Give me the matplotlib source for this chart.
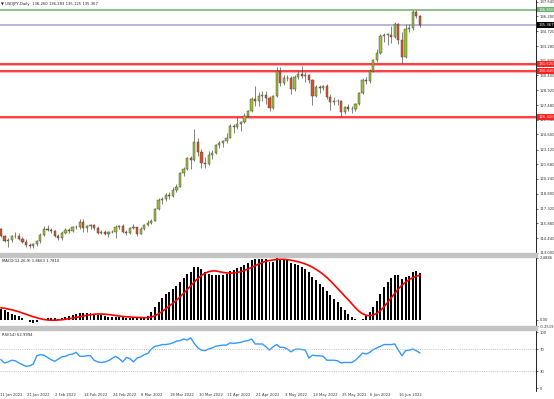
import numpy as np
import pandas as pd
import matplotlib
matplotlib.use("Agg")
import matplotlib.pyplot as plt
from matplotlib.patches import Rectangle
from matplotlib.transforms import blended_transform_factory

# input
symbol = 'USDJPY'
title = '▼ USDJPY,Daily  136.260 136.283 135.125 135.367'
dates = pd.bdate_range('2022-01-11', '2022-06-23')

opens = [115.30, 114.62, 114.18, 114.20, 114.60, 114.65, 114.30, 114.05, 113.75, 113.65,
         113.90, 114.10, 114.70, 115.35, 115.25, 115.10, 114.65, 114.40, 114.95, 115.25,
         115.10, 115.55, 115.50, 116.00, 115.40, 115.60, 115.70, 115.45, 114.95, 115.00,
         114.80, 115.05, 115.00, 115.50, 115.60, 115.00, 114.90, 115.45, 115.50, 114.85,
         115.30, 115.70, 115.95, 116.15, 117.30, 118.20, 118.30, 118.65, 118.60, 119.15,
         119.45, 120.80, 121.20, 122.30, 122.05, 123.85, 122.85, 121.80, 121.70, 122.55,
         122.80, 123.60, 123.75, 123.95, 124.30, 125.40, 125.35, 125.60, 125.85, 126.40,
         126.90, 128.10, 127.85, 128.40, 128.50, 128.15, 127.20, 128.40, 130.80, 129.70,
         130.15, 130.10, 129.10, 130.20, 130.55, 130.30, 130.40, 129.95, 128.35, 129.25,
         129.15, 129.40, 128.25, 127.80, 127.90, 127.85, 126.85, 127.30, 127.10, 127.10,
         127.60, 128.70, 129.90, 129.85, 130.85, 131.90, 132.60, 134.30, 134.40, 134.40,
         134.20, 135.45, 133.85, 132.20, 134.95, 135.10, 136.60, 136.26]
highs = [115.45, 114.75, 114.40, 114.70, 115.05, 114.90, 114.50, 114.30, 114.00, 114.00,
         114.20, 114.95, 115.60, 115.68, 115.45, 115.20, 114.80, 115.10, 115.40, 115.40,
         115.65, 115.70, 116.35, 116.30, 115.75, 115.85, 115.80, 115.60, 115.25, 115.20,
         115.15, 115.20, 115.70, 115.75, 115.80, 115.20, 115.55, 115.80, 115.55, 115.50,
         115.85, 116.20, 116.30, 117.35, 118.40, 118.45, 118.90, 119.00, 119.45, 119.70,
         120.95, 121.40, 122.40, 122.45, 125.10, 124.30, 123.20, 122.40, 122.95, 123.05,
         123.70, 124.00, 124.10, 124.70, 125.60, 125.60, 126.30, 125.90, 126.70, 127.05,
         128.30, 129.40, 128.75, 128.85, 128.85, 128.35, 128.50, 131.25, 131.25, 130.40,
         130.45, 130.35, 130.40, 130.80, 131.35, 130.70, 130.50, 130.00, 129.45, 129.50,
         129.50, 129.60, 128.60, 128.30, 128.10, 128.00, 127.40, 127.60, 127.40, 127.70,
         128.80, 130.10, 130.20, 131.00, 132.00, 133.00, 134.50, 134.55, 134.55, 135.20,
         135.60, 135.55, 134.70, 135.45, 135.45, 136.80, 136.85, 136.28]
lows = [114.55, 114.05, 113.55, 114.05, 114.45, 114.20, 113.95, 113.60, 113.45, 113.50,
        113.70, 114.00, 114.60, 115.10, 114.90, 114.55, 114.20, 114.20, 114.85, 114.95,
        115.05, 115.35, 115.30, 115.00, 115.00, 115.30, 115.25, 114.85, 114.80, 114.70,
        114.55, 114.90, 114.40, 115.30, 114.90, 114.70, 114.80, 115.35, 114.65, 114.80,
        115.20, 115.65, 115.80, 116.10, 117.20, 117.75, 118.10, 118.30, 118.50, 118.95,
        119.40, 120.55, 121.10, 121.20, 122.00, 122.50, 121.30, 121.30, 121.60, 122.20,
        122.70, 123.30, 123.40, 123.80, 124.25, 124.75, 125.10, 124.95, 125.70, 126.30,
        126.85, 127.40, 127.40, 127.90, 127.60, 126.95, 127.10, 128.30, 129.40, 129.50,
        129.85, 128.60, 128.90, 130.00, 130.15, 129.80, 129.70, 127.50, 128.25, 128.70,
        128.95, 128.10, 127.05, 127.50, 127.50, 126.35, 126.60, 126.90, 126.70, 126.90,
        127.50, 128.60, 129.60, 129.70, 130.70, 131.75, 132.50, 133.70, 133.40, 133.60,
        134.10, 133.50, 131.50, 132.10, 134.70, 134.90, 136.00, 135.12]
closes = [114.60, 114.18, 114.20, 114.60, 114.65, 114.30, 114.05, 113.75, 113.65, 113.90,
          114.10, 114.70, 115.35, 115.25, 115.10, 114.65, 114.40, 114.95, 115.25, 115.10,
          115.55, 115.50, 116.00, 115.40, 115.60, 115.70, 115.45, 114.95, 115.00, 114.80,
          115.05, 115.00, 115.50, 115.60, 115.00, 114.90, 115.45, 115.50, 114.85, 115.30,
          115.70, 115.95, 116.15, 117.30, 118.20, 118.30, 118.65, 118.60, 119.15, 119.45,
          120.80, 121.20, 122.30, 122.05, 123.85, 122.85, 121.80, 121.70, 122.55, 122.80,
          123.60, 123.75, 123.95, 124.30, 125.40, 125.35, 125.60, 125.85, 126.40, 126.90,
          128.10, 127.85, 128.40, 128.50, 128.15, 127.20, 128.40, 130.80, 129.70, 130.15,
          130.10, 129.10, 130.20, 130.55, 130.30, 130.40, 129.95, 128.35, 129.25, 129.15,
          129.40, 128.25, 127.80, 127.90, 127.85, 126.85, 127.30, 127.10, 127.10, 127.60,
          128.70, 129.90, 129.85, 130.85, 131.90, 132.60, 134.30, 134.40, 134.40, 134.20,
          135.45, 133.85, 132.20, 134.95, 135.10, 136.60, 136.25, 135.37]

# MACD(12,26,9): main as histogram, signal line
macd = [0.45, 0.40, 0.30, 0.22, 0.17, 0.15, 0.08, -0.02, -0.08, -0.12,
        -0.08, 0.00, 0.04, 0.06, 0.06, 0.05, 0.04, 0.06, 0.10, 0.14,
        0.18, 0.22, 0.27, 0.28, 0.28, 0.27, 0.25, 0.20, 0.17, 0.14,
        0.12, 0.10, 0.11, 0.12, 0.09, 0.07, 0.08, 0.08, 0.05, 0.06,
        0.09, 0.14, 0.30, 0.50, 0.72, 0.88, 1.02, 1.12, 1.24, 1.35,
        1.52, 1.68, 1.84, 1.92, 2.10, 2.12, 2.05, 1.92, 1.85, 1.80,
        1.78, 1.78, 1.80, 1.84, 1.95, 2.00, 2.08, 2.12, 2.20, 2.28,
        2.40, 2.42, 2.44, 2.45, 2.42, 2.32, 2.30, 2.48, 2.45, 2.42,
        2.38, 2.28, 2.25, 2.20, 2.12, 2.04, 1.92, 1.70, 1.58, 1.45,
        1.32, 1.15, 0.98, 0.85, 0.72, 0.52, 0.40, 0.25, 0.12, 0.04,
        -0.02, 0.02, 0.15, 0.30, 0.50, 0.75, 1.05, 1.32, 1.52, 1.66,
        1.80, 1.78, 1.62, 1.70, 1.76, 1.92, 1.95, 1.8663]
signal = [0.48, 0.46, 0.43, 0.40, 0.36, 0.32, 0.27, 0.22, 0.17, 0.12,
          0.08, 0.04, 0.01, -0.01, -0.02, -0.02, -0.01, 0.00, 0.02, 0.04,
          0.06, 0.09, 0.12, 0.15, 0.18, 0.20, 0.22, 0.23, 0.23, 0.22,
          0.21, 0.19, 0.17, 0.15, 0.13, 0.12, 0.11, 0.10, 0.09, 0.09,
          0.08, 0.09, 0.11, 0.16, 0.24, 0.33, 0.44, 0.55, 0.66, 0.78,
          0.92, 1.06, 1.21, 1.36, 1.52, 1.66, 1.78, 1.87, 1.93, 1.96,
          1.96, 1.93, 1.90, 1.88, 1.87, 1.88, 1.90, 1.93, 1.98, 2.04,
          2.10, 2.17, 2.24, 2.30, 2.35, 2.38, 2.40, 2.42, 2.43, 2.43,
          2.41, 2.39, 2.36, 2.33, 2.29, 2.24, 2.18, 2.11, 2.02, 1.93,
          1.82, 1.70, 1.56, 1.41, 1.26, 1.11, 0.95, 0.80, 0.64, 0.48,
          0.34, 0.24, 0.18, 0.16, 0.19, 0.26, 0.37, 0.52, 0.70, 0.88,
          1.06, 1.24, 1.39, 1.51, 1.61, 1.69, 1.75, 1.781]

# RSI(14)
rsi = [51, 45, 47, 50, 49, 45, 42, 39, 40, 43, 58, 60, 59, 55, 51, 48, 52, 56, 57, 60,
       61, 64, 57, 57, 58, 58, 50, 47, 46, 47, 49, 53, 57, 53, 47, 55, 53, 47, 54, 56,
       60, 62, 70, 75, 76, 78, 78, 79, 81, 84, 85, 88, 86, 90, 80, 72, 68, 67, 70, 72,
       75, 76, 77, 77, 81, 80, 81, 82, 84, 85, 88, 79, 79, 79, 74, 68, 74, 78, 73, 73,
       70, 65, 69, 70, 69, 68, 54, 59, 58, 58, 57, 50, 50, 50, 49, 45, 46, 46, 46, 50,
       56, 63, 61, 64, 69, 72, 75, 78, 78, 78, 79, 68, 58, 67, 68, 70, 67, 62.9994]

# horizontal levels (color, price, label)
levels = [('#6fb06f', 136.85, '136.850'),
          ('#a3a3d6', 135.37, '135.367'),
          ('#ff2020', 131.52, '131.520'),
          ('#ff2020', 130.84, '130.840'),
          ('#ff2020', 126.32, '126.320')]
price_ticks = [113.000, 114.440, 115.880, 117.320, 118.800, 120.240, 121.680, 123.120,
               124.600, 126.040, 127.480, 128.920, 130.400, 131.840, 133.280, 134.720,
               136.200, 137.640]

W, H = 554, 399
fs = 2.7
x = np.arange(len(dates))
o, h, l, c = map(np.array, (opens, highs, lows, closes))
xlim = (-0.28, -0.28 + 536 / 3.58)


def box(y0, y1):
    return [0, 1 - y1 / H, 536 / W, (y1 - y0) / H]


def style(ax):
    for s in ['top', 'left', 'bottom']:
        ax.spines[s].set_visible(False)
    ax.spines['right'].set_linewidth(0.6)
    ax.yaxis.tick_right()
    ax.tick_params(axis='y', labelsize=fs, length=1.5, width=0.4, pad=1, labelcolor='#333333')
    ax.set_xlim(xlim)
    ax.set_xticks([])


fig = plt.figure(figsize=(W / 100, H / 100), dpi=100)

# main price chart
ax1 = fig.add_axes(box(0, 253))
style(ax1)
up = c >= o
ax1.vlines(x, l, h, color='#505050', lw=0.5, zorder=2)
ax1.bar(x, np.maximum(np.abs(c - o), 0.03), bottom=np.minimum(o, c), width=0.62,
        color=np.where(up, '#9dbf35', '#dd5522'), edgecolor='#3a3a3a', lw=0.3, zorder=3)
trans = blended_transform_factory(ax1.transAxes, ax1.transData)
for col, lv, lab in levels:
    if col == '#ff2020':
        ax1.axhline(lv, color=col, lw=2.2, alpha=0.35, zorder=1)
    ax1.axhline(lv, color=col, lw=1.1, zorder=1)
    tc = 'black' if col == '#a3a3d6' else col
    ax1.text(1.004, lv, lab, transform=trans, fontsize=fs, color='white', va='center',
             ha='left', zorder=5,
             bbox=dict(boxstyle='square,pad=0.2', fc=tc, ec='none'))
ax1.set_ylim(112.97, 137.80)
ax1.set_yticks(price_ticks)
ax1.set_yticklabels(['%.3f' % p for p in price_ticks])

# MACD
ax2 = fig.add_axes(box(256, 326))
style(ax2)
ax2.bar(x, macd, width=0.55, color='black', zorder=2)
ax2.plot(x, signal, color='#ff0000', lw=1.2, zorder=3)
ax2.set_ylim(-0.2519, 2.56)
ax2.set_yticks([2.4886, 0.0, -0.2519])
ax2.set_yticklabels(['2.4886', '0.00', '-0.2519'])
ax2.text(0.004, 0.93, 'MACD(12,26,9) 1.8663 1.7810', transform=ax2.transAxes,
         fontsize=fs, va='center', color='#222222')

# RSI
ax3 = fig.add_axes(box(330, 391))
style(ax3)
ax3.plot(x, rsi, color='#3399ff', lw=1.0)
ax3.axhline(70, color='#b0b0b0', ls=':', lw=0.6)
ax3.axhline(30, color='#b0b0b0', ls=':', lw=0.6)
ax3.set_ylim(-5, 104)
ax3.set_yticks([100, 70, 30, 0])
ax3.text(0.004, 0.92, 'RSI(14) 62.9994', transform=ax3.transAxes,
         fontsize=fs, va='center', color='#222222')
# date labels under the RSI panel, left-aligned just before each 8th bar
xtrans = blended_transform_factory(ax3.transData, ax3.transAxes)
for i in range(0, len(dates), 8):
    ax3.text(max(i - 0.8, xlim[0] + 0.1), -0.03,
             '%d %s' % (dates[i].day, dates[i].strftime('%b %Y')),
             transform=xtrans, fontsize=fs, ha='left', va='top', color='#333333',
             clip_on=False)

# panel separators and title
for y0 in (253, 326):
    fig.patches.append(Rectangle((0, 1 - (y0 + 3.5) / H), 537 / W, 3.5 / H,
                                 transform=fig.transFigure, color='#c4c4c4', zorder=10))
fig.text(0.002, 1 - 4 / H, title, fontsize=fs, va='center', color='#222222')

fig.savefig('out.png', dpi=100)
